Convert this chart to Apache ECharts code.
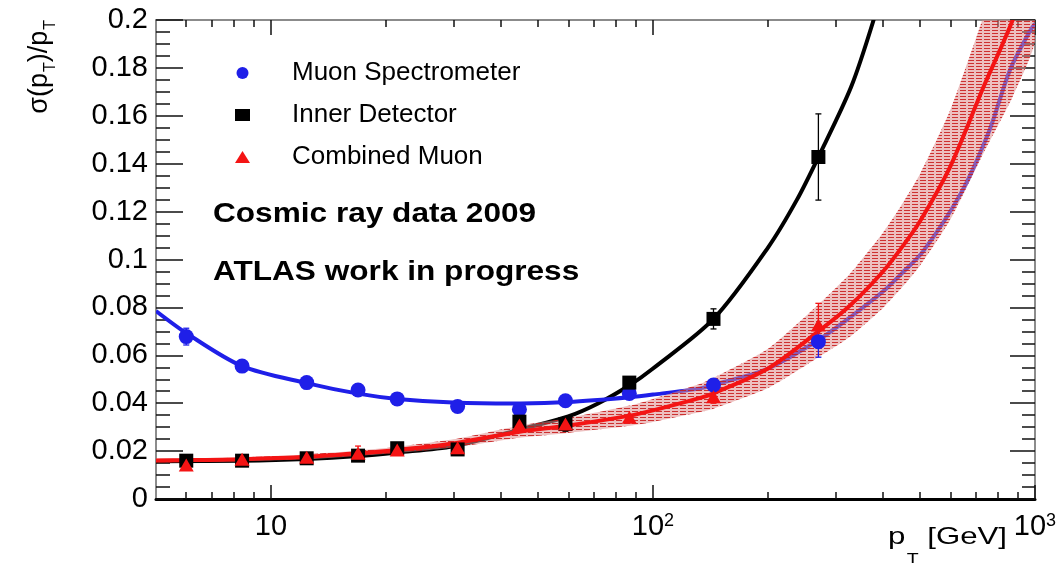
<!DOCTYPE html>
<html>
<head>
<meta charset="utf-8">
<script src="https://cdn.jsdelivr.net/npm/echarts@6/dist/echarts.min.js"></script>
<style>html,body{margin:0;padding:0;background:#fff}#c{width:1063px;height:564px}</style>
</head>
<body>
<div id="c"></div>
<script>
// ---- data ----
const pt = [6.0, 8.4, 12.4, 16.9, 21.4, 30.8, 44.7, 59.0, 86.7, 144, 271];
const msVal = [0.0678, 0.0555, 0.0486, 0.0455, 0.0418, 0.0386, 0.0374, 0.0410, 0.0441, 0.0476, 0.0657];
const msErr = [0.0035, 0.0012, 0.0010, 0.0010, 0.0010, 0.0010, 0.0010, 0.0010, 0.0012, 0.0022, 0.0065];
const idVal = [0.0160, 0.0160, 0.0170, 0.0181, 0.0212, 0.0207, 0.0323, 0.0313, 0.0486, 0.0752, 0.1428];
const idErr = [0.0012, 0.0010, 0.0010, 0.0010, 0.0010, 0.0010, 0.0012, 0.0030, 0.0017, 0.0042, 0.0180];
const cbVal = [0.0142, 0.0166, 0.0174, 0.0191, 0.0205, 0.0214, 0.0309, 0.0313, 0.0341, 0.0427, 0.0727];
const cbErr = [0.0015, 0.0015, 0.0012, 0.0030, 0.0010, 0.0010, 0.0010, 0.0012, 0.0010, 0.0027, 0.0090];

const msFitX = [5, 6, 8.4, 12.4, 16.9, 21.4, 30, 45, 60, 87, 100, 133, 144, 200, 271, 329, 400, 450, 510, 640, 760, 860, 970, 1000];
const msFitY = [0.0785, 0.0693, 0.0555, 0.0484, 0.0440, 0.0418, 0.0403, 0.0399, 0.0405, 0.0425, 0.0436, 0.0462, 0.0476, 0.0545, 0.0664, 0.0760, 0.0866, 0.0945, 0.1035, 0.1277, 0.1540, 0.1791, 0.1954, 0.1985];

const idFitX = [5, 8.4, 12.4, 16.9, 21.4, 30, 46, 60, 72, 87, 100, 144, 200, 238, 271, 330, 378, 400];
const idFitY = [0.0158, 0.0160, 0.0167, 0.0179, 0.0194, 0.0220, 0.0295, 0.0345, 0.0400, 0.0476, 0.0545, 0.0752, 0.1050, 0.1249, 0.1428, 0.1720, 0.2000, 0.2150];

const cbFitX = [5, 6, 8.4, 12.4, 16.9, 21.4, 30, 44.7, 59, 87, 100, 133, 144, 200, 271, 329, 400, 450, 500, 600, 734, 874, 1000];
const cbFitY = [0.0161, 0.0162, 0.0166, 0.0176, 0.0191, 0.0205, 0.0232, 0.0281, 0.0305, 0.0348, 0.0370, 0.0422, 0.0441, 0.0545, 0.0700, 0.0810, 0.0950, 0.1055, 0.1160, 0.1388, 0.1722, 0.2000, 0.2280];
const bandLo = [0.0153, 0.0154, 0.0158, 0.0166, 0.0180, 0.0192, 0.0215, 0.0256, 0.0275, 0.0306, 0.0322, 0.0363, 0.0377, 0.0463, 0.0592, 0.0680, 0.0798, 0.0886, 0.0974, 0.1166, 0.1446, 0.1680, 0.1915];
const bandHi = [0.0169, 0.0170, 0.0174, 0.0186, 0.0202, 0.0218, 0.0249, 0.0306, 0.0336, 0.0390, 0.0418, 0.0481, 0.0505, 0.0627, 0.0812, 0.0944, 0.1112, 0.1234, 0.1357, 0.1624, 0.2015, 0.2340, 0.2668];

const xMajor = [10, 100, 1000];
const xMinor = [6, 7, 8, 9, 20, 30, 40, 50, 60, 70, 80, 90, 200, 300, 400, 500, 600, 700, 800, 900];
const names = ['Muon Spectrometer', 'Inner Detector', 'Combined Muon'];

// ---- styles ----
const BLUE = '#1f1fe8', RED = '#f41414', BLACK = '#000000';
const FONT = '"Liberation Sans", Arial, Helvetica, sans-serif';

const pc = document.createElement('canvas');
pc.width = 8; pc.height = 3;
const pctx = pc.getContext('2d');
pctx.fillStyle = 'rgba(222,140,140,0.55)';
pctx.fillRect(0, 0, 8, 3);
pctx.fillStyle = 'rgba(200,25,25,0.85)';
pctx.fillRect(0, 0, 6, 1);

const chart = echarts.init(document.getElementById('c'), null, {renderer: 'canvas'});

function xLabel(v) {
  const e = Math.log10(v);
  const r = Math.round(e);
  if (Math.abs(e - r) > 1e-6 || r < 1) return '';
  if (r === 1) return '{b|10}';
  return '{b|10}{sup|' + r + '}';
}

function xAxisDef(pos, vals, len, showLine, showLabel) {
  return {
    type: 'log', logBase: 10, min: 5, max: 1000, position: pos,
    axisLine: {show: showLine, onZero: false, lineStyle: {color: pos === 'bottom' ? '#000' : '#666', width: pos === 'bottom' ? 3 : 1.5}},
    axisTick: {show: true, inside: true, length: len, customValues: vals, lineStyle: {color: '#111', width: 1.5}},
    axisLabel: showLabel ? {
      show: true, customValues: xMajor, margin: 13, formatter: xLabel, color: '#000',
      rich: {
        b: {fontSize: 29, fontFamily: FONT, color: '#000', lineHeight: 30, verticalAlign: 'top'},
        sup: {fontSize: 18, fontFamily: FONT, color: '#000', lineHeight: 16, verticalAlign: 'top'}
      }
    } : {show: false},
    splitLine: {show: false}, minorTick: {show: false}
  };
}

function yAxisDef(pos, majLen, minLen, showLabel) {
  return {
    type: 'value', min: 0, max: 0.2, interval: 0.02, position: pos,
    axisLine: {show: true, onZero: false, lineStyle: {color: '#666', width: 1.5}},
    axisTick: {show: true, inside: true, length: majLen, lineStyle: {color: '#111', width: 1.5}},
    minorTick: {show: true, splitNumber: 4, length: minLen, lineStyle: {color: '#111', width: 1.5}},
    axisLabel: showLabel ? {show: true, margin: 8, fontSize: 29, fontFamily: FONT, color: '#000'} : {show: false},
    splitLine: {show: false}
  };
}

function clipRect(params) {
  const c = params.coordSys;
  return {type: 'rect', shape: {x: c.x, y: c.y, width: c.width, height: c.height}};
}

// fit curve drawn as one smoothed polyline through the library's coordinate mapping
function curveSeries(xs, ys, color) {
  return {
    type: 'custom', silent: true, z: 2,
    encode: {x: 0, y: 1},
    data: [[xs[0], ys[0]]],
    renderItem: function (params, api) {
      const pts = xs.map((x, i) => api.coord([x, ys[i]]));
      return {type: 'group', clipPath: clipRect(params), children: [
        {type: 'polyline', shape: {points: pts, smooth: 0.3}, style: {stroke: color, lineWidth: 4, fill: null, lineJoin: 'round'}}
      ]};
    }
  };
}

function bandSeries(xs, lo, hi) {
  return {
    type: 'custom', silent: true, z: 2,
    encode: {x: 0, y: 1},
    data: [[xs[0], lo[0]]],
    renderItem: function (params, api) {
      const a = xs.map((x, i) => api.coord([x, lo[i]]));
      const b = xs.map((x, i) => api.coord([x, hi[i]])).reverse();
      return {type: 'group', clipPath: clipRect(params), children: [
        {type: 'polygon', shape: {points: a.concat(b), smooth: 0.2},
         style: {fill: {image: pc, repeat: 'repeat'}, stroke: null}}
      ]};
    }
  };
}

function errSeries(vals, errs, color) {
  return {
    type: 'custom', silent: true, z: 3,
    encode: {x: 0, y: 1},
    data: pt.map((p, i) => [p, vals[i], errs[i]]),
    renderItem: function (params, api) {
      const x = api.value(0), y = api.value(1), e = api.value(2);
      const a = api.coord([x, y + e]);
      const b = api.coord([x, y - e]);
      const st = {stroke: color, lineWidth: 1.3};
      return {type: 'group', children: [
        {type: 'line', shape: {x1: a[0], y1: a[1], x2: b[0], y2: b[1]}, style: st},
        {type: 'line', shape: {x1: a[0] - 3, y1: a[1], x2: a[0] + 3, y2: a[1]}, style: st},
        {type: 'line', shape: {x1: b[0] - 3, y1: b[1], x2: b[0] + 3, y2: b[1]}, style: st}
      ]};
    }
  };
}

const option = {
  animation: false,
  backgroundColor: '#fff',
  grid: {left: 156, right: 28, top: 20, bottom: 65, containLabel: false},
  xAxis: [
    xAxisDef('bottom', xMajor, 14, true, true),
    xAxisDef('bottom', xMinor, 7, false, false),
    xAxisDef('top', xMajor, 15, true, false),
    xAxisDef('top', xMinor, 7, false, false)
  ],
  yAxis: [
    yAxisDef('left', 27, 14, true),
    yAxisDef('right', 25, 13, false)
  ],
  legend: {
    left: 235, top: 60, orient: 'vertical', itemWidth: 15, itemHeight: 12, itemGap: 16, padding: 0,
    selectedMode: false,
    textStyle: {fontSize: 26, fontFamily: FONT, color: '#000', lineHeight: 24, padding: [0, 0, 0, 37]},
    data: [
      {name: names[0], icon: 'circle'},
      {name: names[1], icon: 'rect'},
      {name: names[2], icon: 'triangle'}
    ]
  },
  graphic: [
    {type: 'text', x: 213, y: 215, scaleX: 1.17, z: 100,
     style: {text: 'Cosmic ray data 2009', font: 'bold 27px ' + FONT, fill: '#000', verticalAlign: 'middle', align: 'left'}},
    {type: 'text', x: 213, y: 273, scaleX: 1.17, z: 100,
     style: {text: 'ATLAS work in progress', font: 'bold 27px ' + FONT, fill: '#000', verticalAlign: 'middle', align: 'left'}},
    {type: 'text', x: 1007, y: 525, scaleX: 1.3, z: 100,
     style: {text: '{a|p}{s|T}{a| [GeV]}', align: 'right', verticalAlign: 'top', fill: '#000',
       rich: {
         a: {fontSize: 24, fontFamily: FONT, fill: '#000', lineHeight: 26, verticalAlign: 'top'},
         s: {fontSize: 15, fontFamily: FONT, fill: '#000', lineHeight: 16, padding: [26, 0, 0, 1], verticalAlign: 'top'}
       }}},
    {type: 'text', x: 26, y: 20, rotation: Math.PI / 2, z: 100,
     style: {text: '{a|σ(p}{s|T}{a|)/p}{s|T}', align: 'right', verticalAlign: 'top', fill: '#000',
       rich: {
         a: {fontSize: 27, fontFamily: FONT, fill: '#000', lineHeight: 28, verticalAlign: 'top'},
         s: {fontSize: 16, fontFamily: FONT, fill: '#000', lineHeight: 16, padding: [17, 0, 0, 1], verticalAlign: 'top'}
       }}}
  ],
  series: [
    curveSeries(idFitX, idFitY, BLACK),
    curveSeries(msFitX, msFitY, BLUE),
    bandSeries(cbFitX, bandLo, bandHi),
    curveSeries(cbFitX, cbFitY, RED),
    errSeries(msVal, msErr, BLUE),
    errSeries(idVal, idErr, BLACK),
    errSeries(cbVal, cbErr, RED),
    {name: names[0], type: 'scatter', symbol: 'circle', symbolSize: 15, itemStyle: {color: BLUE, opacity: 1},
     data: pt.map((p, i) => [p, msVal[i]]), z: 4},
    {name: names[1], type: 'scatter', symbol: 'rect', symbolSize: 14, itemStyle: {color: BLACK, opacity: 1},
     data: pt.map((p, i) => [p, idVal[i]]), z: 4},
    {name: names[2], type: 'scatter', symbol: 'triangle', symbolSize: [15, 13], itemStyle: {color: RED, opacity: 1},
     data: pt.map((p, i) => [p, cbVal[i]]), z: 5}
  ]
};
chart.setOption(option);
</script>
</body>
</html>
